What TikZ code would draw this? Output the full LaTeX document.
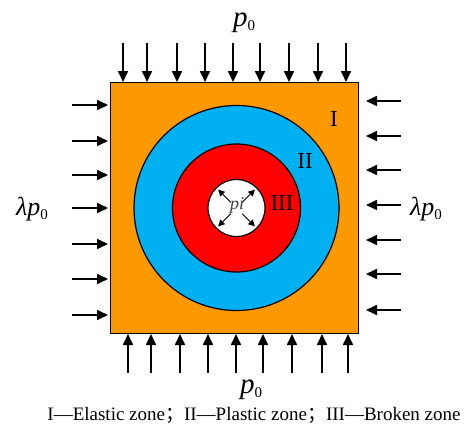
\documentclass[tikz,border=0pt]{standalone}
\usepackage{fontspec}
\setmainfont{Liberation Serif}
\newfontfamily\cjk{Noto Sans CJK SC}
\usetikzlibrary{arrows.meta,calc}
\definecolor{zoneI}{RGB}{252,152,0}
\definecolor{zoneII}{RGB}{0,176,240}
\definecolor{zoneIII}{RGB}{255,0,0}
\tikzset{
  load/.style={draw=black, line width=1.7pt, -{Triangle[length=11pt,width=10pt]}},
  inner/.style={draw=black, line width=1pt, -{Triangle[length=6.5pt,width=6.5pt]}},
  zone/.style={draw=black, line width=1.2pt},
  lbl/.style={inner sep=0pt, anchor=base},
  pload/.style={inner sep=0pt, anchor=base west, font=\fontsize{29}{29}\selectfont},
  sload/.style={inner sep=0pt, anchor=base west, font=\fontsize{26}{26}\selectfont},
  roman/.style={lbl, font=\fontsize{23}{23}\selectfont},
}
\newcommand{\pz}{\textit{p}\raisebox{-4pt}{\fontsize{15}{15}\selectfont 0}}
\begin{document}
\begin{tikzpicture}[x=1pt,y=-1pt]
\useasboundingbox (0,0) rectangle (466,429);
\fill[white] (0,0) rectangle (466,429);
% square and zones
\node[zone, fill=zoneI, minimum width=248pt, minimum height=251pt, inner sep=0pt, anchor=north west] (sq) at (110,82) {};
\coordinate (c) at (236.5,208);
\node[zone, fill=zoneII, circle, minimum size=205pt, inner sep=0pt] (cII) at (c) {};
\node[zone, fill=zoneIII, circle, minimum size=128pt, inner sep=0pt] (cIII) at (c) {};
\node[zone, fill=white, circle, minimum size=57pt, inner sep=0pt] (hole) at (c) {};
% inner pressure arrows
\foreach \a [count=\k] in {45,135,225,315}{
  \coordinate (is\k) at ($(c)+(\a:8)$);
  \coordinate (ie\k) at ($(c)+(\a:26)$);
  \draw[inner] (is\k) -- (ie\k);
}
\node[lbl, font=\fontsize{18}{18}\selectfont, text=black!75] (pi) at (237,209) {\textit{pi}};
% zone labels
\node[roman] (lI) at (334,126) {I};
\node[roman] (lII) at (305,168) {II};
\node[roman] (lIII) at (282,210) {III};
% top loads
\foreach \x [count=\k] in {123,147,177,205,233,260,289,318,346}{
  \coordinate (ts\k) at (\x,43);
  \coordinate (te\k) at (\x,82);
  \draw[load] (ts\k) -- (te\k);
}
% bottom loads
\foreach \x [count=\k] in {128,151,180,208,236,263,292,322,348}{
  \coordinate (bs\k) at (\x,373);
  \coordinate (be\k) at (\x,334);
  \draw[load] (bs\k) -- (be\k);
}
% left loads
\foreach \y [count=\k] in {105,141,175,208,244,279,315}{
  \coordinate (ls\k) at (72,\y);
  \coordinate (le\k) at (108,\y);
  \draw[load] (ls\k) -- (le\k);
}
% right loads
\foreach \y [count=\k] in {101,136,170,205,240,274,310}{
  \coordinate (rs\k) at (401,\y);
  \coordinate (re\k) at (366,\y);
  \draw[load] (rs\k) -- (re\k);
}
% load labels
\node[pload] (ptop) at (233,26) {\pz};
\node[pload] (pbot) at (240,393) {\pz};
\node[sload] (pleft) at (16,215) {\textit{λ}\pz};
\node[sload] (pright) at (410,215) {\textit{λ}\pz};
% caption
\node[lbl, font=\fontsize{19}{19}\selectfont] (cap) at (254,420) {I—Elastic zone{\cjk ；}II—Plastic zone{\cjk ；}III—Broken zone};
\end{tikzpicture}
\end{document}
